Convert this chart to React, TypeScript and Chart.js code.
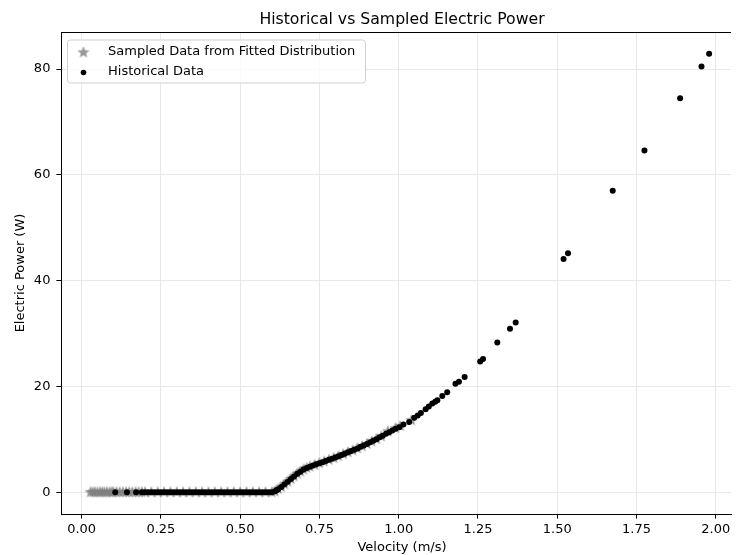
import React, { useEffect, useRef } from 'react';
import { Chart, registerables } from 'chart.js';

Chart.register(...registerables);

const TITLE = 'Historical vs Sampled Electric Power';
const X_LABEL = 'Velocity (m/s)';
const Y_LABEL = 'Electric Power (W)';
const LEGEND_SAMPLED = 'Sampled Data from Fitted Distribution';
const LEGEND_HIST = 'Historical Data';

const X_TICKS = [0, 0.25, 0.5, 0.75, 1.0, 1.25, 1.5, 1.75, 2.0];
const Y_TICKS = [0, 20, 40, 60, 80];

// Historical data (velocity m/s, power W)
const HIST_V = [
  0.106, 0.143, 0.172, 0.19, 0.2, 0.21, 0.22, 0.23, 0.24, 0.25, 0.26, 0.27, 0.28, 0.29, 0.3,
  0.31, 0.32, 0.33, 0.34, 0.35, 0.36, 0.37, 0.38, 0.39, 0.4, 0.41, 0.42, 0.43, 0.44, 0.45,
  0.46, 0.47, 0.48, 0.49, 0.5, 0.51, 0.52, 0.53, 0.54, 0.55, 0.56, 0.57, 0.58, 0.59, 0.6,
  0.61, 0.615, 0.62, 0.63, 0.64, 0.65, 0.66, 0.67, 0.68, 0.69, 0.7, 0.71, 0.72, 0.73, 0.74,
  0.75, 0.76, 0.77, 0.78, 0.79, 0.8, 0.81, 0.82, 0.83, 0.84, 0.85, 0.86, 0.87, 0.88, 0.89,
  0.9, 0.91, 0.92, 0.93, 0.94, 0.95, 0.96, 0.97, 0.98, 0.99, 1.002, 1.015, 1.033, 1.049, 1.06,
  1.07, 1.085, 1.095, 1.106, 1.115, 1.122, 1.1375, 1.153, 1.179, 1.19, 1.208, 1.257, 1.266,
  1.311, 1.351, 1.369, 1.52, 1.534, 1.675, 1.775, 1.8875, 1.955, 1.979,
];
const HIST_P = [
  0, 0, 0, 0, 0, 0, 0, 0, 0, 0, 0, 0, 0, 0, 0,
  0, 0, 0, 0, 0, 0, 0, 0, 0, 0, 0, 0, 0, 0, 0,
  0, 0, 0, 0, 0, 0, 0, 0, 0, 0, 0, 0, 0, 0, 0,
  0.2, 0.4, 0.6, 1.0, 1.5, 2.0, 2.5, 3.0, 3.5, 3.9, 4.3, 4.6, 4.85, 5.05, 5.3,
  5.5, 5.7, 5.9, 6.15, 6.35, 6.6, 6.8, 7.05, 7.3, 7.55, 7.8, 8.05, 8.3, 8.6, 8.85,
  9.15, 9.45, 9.75, 10.05, 10.4, 10.7, 11.05, 11.35, 11.7, 12.0, 12.3, 12.8, 13.3, 14.1, 14.5,
  15.0, 15.7, 16.2, 16.8, 17.1, 17.4, 18.2, 18.9, 20.5, 20.9, 21.8, 24.7, 25.2,
  28.3, 30.9, 32.1, 44.1, 45.2, 57.0, 64.6, 74.5, 80.5, 82.9,
];

// Sampled data from fitted distribution
const SAMP_V = [
  0.028, 0.035, 0.042, 0.05, 0.058, 0.065, 0.072, 0.08, 0.088, 0.095, 0.1, 0.11, 0.12, 0.13,
  0.14, 0.15, 0.16, 0.17, 0.18, 0.19, 0.2, 0.22, 0.24, 0.26, 0.28, 0.3, 0.32, 0.34, 0.36,
  0.38, 0.4, 0.42, 0.44, 0.46, 0.48, 0.5, 0.52, 0.54, 0.56, 0.58, 0.6, 0.61, 0.62, 0.63,
  0.64, 0.65, 0.66, 0.67, 0.68, 0.69, 0.7, 0.71, 0.72, 0.735, 0.75, 0.765, 0.78, 0.795, 0.81,
  0.825, 0.84, 0.855, 0.87, 0.885, 0.9, 0.915, 0.93, 0.945, 0.966, 0.99, 1.005, 1.04,
];
const SAMP_P = [
  0, 0, 0, 0, 0, 0, 0, 0, 0, 0, 0, 0, 0, 0,
  0, 0, 0, 0, 0, 0, 0, 0, 0, 0, 0, 0, 0, 0, 0,
  0, 0, 0, 0, 0, 0, 0, 0, 0, 0, 0, 0, 0.15, 0.6, 1.0,
  1.5, 2.0, 2.5, 3.0, 3.5, 3.9, 4.3, 4.6, 4.85, 5.15, 5.5, 5.8, 6.15, 6.45, 6.8,
  7.2, 7.55, 7.9, 8.3, 8.7, 9.15, 9.6, 10.05, 10.55, 11.5, 12.1, 12.5, 13.6,
];

const FONT = "'DejaVu Sans', sans-serif";
const STAR_COLOR = 'rgba(128,128,128,0.8)';
const AXES_CENTER_X = 402;

function makeStar(r: number, color: string): HTMLCanvasElement {
  const size = Math.ceil(r * 2 + 3);
  const c = document.createElement('canvas');
  c.width = size;
  c.height = size;
  const ctx = c.getContext('2d')!;
  const cx = size / 2;
  const cy = size / 2;
  const ri = r * 0.45;
  ctx.fillStyle = color;
  ctx.strokeStyle = color;
  ctx.lineWidth = 0.8;
  ctx.lineJoin = 'miter';
  ctx.beginPath();
  for (let i = 0; i < 10; i++) {
    const a = -Math.PI / 2 + (i * Math.PI) / 5;
    const rr = i % 2 === 0 ? r : ri;
    const px = cx + rr * Math.cos(a);
    const py = cy + rr * Math.sin(a);
    if (i === 0) ctx.moveTo(px, py);
    else ctx.lineTo(px, py);
  }
  ctx.closePath();
  ctx.fill();
  return c;
}

export default function App() {
  const ref = useRef<HTMLCanvasElement | null>(null);

  useEffect(() => {
    if (!ref.current) return;
    const star = makeStar(6.3, STAR_COLOR);

    const overlay = {
      id: 'overlay',
      afterDraw(chart: any) {
        const ctx = chart.ctx as CanvasRenderingContext2D;
        const a = chart.chartArea;
        ctx.save();
        // top spine
        ctx.strokeStyle = '#000';
        ctx.lineWidth = 1;
        ctx.beginPath();
        ctx.moveTo(a.left, a.top + 0.5);
        ctx.lineTo(a.right, a.top + 0.5);
        ctx.stroke();
        // title
        ctx.fillStyle = '#000';
        ctx.font = `15.7px ${FONT}`;
        ctx.textAlign = 'center';
        ctx.textBaseline = 'middle';
        ctx.fillText(TITLE, AXES_CENTER_X, 20);
        // x axis label
        ctx.font = `13px ${FONT}`;
        ctx.fillText(X_LABEL, AXES_CENTER_X, 547.5);
        // legend
        const bx = 67, by = 39.5, bw = 298, bh = 43;
        ctx.fillStyle = 'rgba(255,255,255,0.8)';
        ctx.strokeStyle = '#d0d0d0';
        ctx.lineWidth = 1;
        ctx.beginPath();
        (ctx as any).roundRect(bx + 0.5, by + 0.5, bw, bh, 3);
        ctx.fill();
        ctx.stroke();
        ctx.drawImage(star, 83.5 - star.width / 2, 52.5 - star.height / 2);
        ctx.fillStyle = '#000';
        ctx.beginPath();
        ctx.arc(83.5, 72.5, 2.8, 0, Math.PI * 2);
        ctx.fill();
        ctx.font = `13px ${FONT}`;
        ctx.textAlign = 'left';
        ctx.textBaseline = 'middle';
        ctx.fillText(LEGEND_SAMPLED, 108, 51.5);
        ctx.fillText(LEGEND_HIST, 108, 71.5);
        ctx.restore();
      },
    };

    const chart = new Chart(ref.current, {
      type: 'scatter',
      data: {
        datasets: [
          {
            label: LEGEND_HIST,
            data: HIST_V.map((v, i) => ({ x: v, y: HIST_P[i] })),
            backgroundColor: '#000',
            borderWidth: 0,
            pointRadius: 3,
            order: 0,
          },
          {
            label: LEGEND_SAMPLED,
            data: SAMP_V.map((v, i) => ({ x: v, y: SAMP_P[i] })),
            pointStyle: star as any,
            backgroundColor: STAR_COLOR,
            borderWidth: 0,
            pointRadius: 6,
            order: 1,
          },
        ],
      },
      plugins: [overlay],
      options: {
        animation: false,
        responsive: true,
        maintainAspectRatio: false,
        devicePixelRatio: 1,
        layout: { padding: { top: 32, right: 0, left: 0, bottom: 0 } },
        plugins: {
          legend: { display: false },
          tooltip: { enabled: false },
          title: { display: false },
        },
        scales: {
          x: {
            type: 'linear',
            min: -0.065,
            max: 2.048,
            afterBuildTicks: (s: any) => {
              s.ticks = X_TICKS.map((v) => ({ value: v }));
            },
            afterFit: (s: any) => {
              s.height = 41;
              s.paddingLeft = 0;
              s.paddingRight = 0;
            },
            ticks: {
              callback: (v: any) => Number(v).toFixed(2),
              font: { family: FONT, size: 13 },
              color: '#000',
              padding: 3,
              maxRotation: 0,
              autoSkip: false,
            },
            grid: { color: '#e8e8e8', tickLength: 4.6, tickColor: '#000', lineWidth: 1 },
            border: { color: '#000', width: 1 },
            title: { display: false },
          },
          y: {
            type: 'linear',
            min: -4.1,
            max: 87.0,
            afterBuildTicks: (s: any) => {
              s.ticks = Y_TICKS.map((v) => ({ value: v }));
            },
            afterFit: (s: any) => {
              s.width = 61;
              s.paddingTop = 0;
              s.paddingBottom = 0;
            },
            ticks: {
              font: { family: FONT, size: 13 },
              color: '#000',
              padding: 6,
              autoSkip: false,
            },
            grid: { color: '#e8e8e8', tickLength: 4.6, tickColor: '#000', lineWidth: 1 },
            border: { color: '#000', width: 1 },
            title: {
              display: true,
              text: Y_LABEL,
              font: { family: FONT, size: 13 },
              color: '#000',
              padding: { top: 13, bottom: 0 },
            },
          },
        },
      },
    } as any);

    return () => chart.destroy();
  }, []);

  return (
    <div style={{ position: 'fixed', left: 0, top: 0, width: 737, height: 555, overflow: 'hidden', background: '#fff' }}>
      <div style={{ position: 'relative', width: 737, height: 555 }}>
        <canvas ref={ref} />
      </div>
    </div>
  );
}
